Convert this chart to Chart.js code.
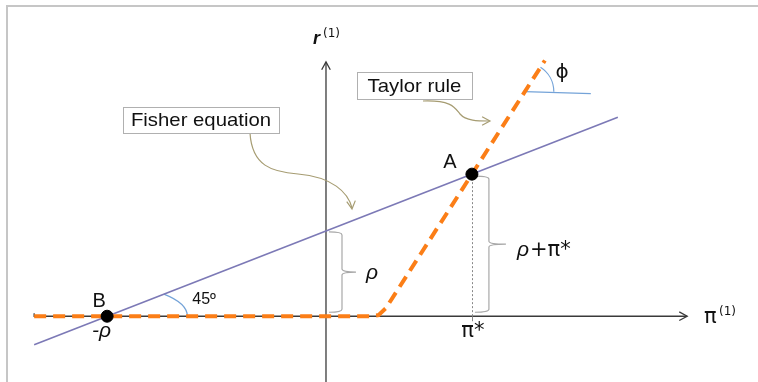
<!DOCTYPE html>
<html lang="en">
<head>
<meta charset="UTF-8">
<title>Fisher equation and Taylor rule</title>
<script src="https://cdn.jsdelivr.net/npm/chart.js"></script>
<style>
    body, html { margin: 0; padding: 0; background: #fff; }
    #wrap { width: 758px; height: 382px; position: relative; }
</style>
</head>
<body>
<div id="wrap"><canvas id="chart"></canvas></div>
<script>
    // model values (rho = 3, pi* = 2, Taylor slope phi = 4)
    const rho = 3;
    const piStar = 2;
    const fisherPi = [-4, 4];
    const fisherR = [-1, 7];
    const taylorPi = [-4, 0.6, 0.72, 0.82, 3];
    const taylorR = [0, 0, 0.04, 0.28, 9];
    const pointLabels = ['A', 'B'];
    const pointPi = [2, -3];
    const pointR = [5, 0];

    const toXY = (xs, ys) => xs.map((x, i) => ({ x: x, y: ys[i] }));

    // little helpers for the drawing plugin
    function chevron(ctx, x, y, ang) {
        ctx.beginPath();
        ctx.moveTo(x - 9 * Math.cos(ang - 0.5), y - 9 * Math.sin(ang - 0.5));
        ctx.lineTo(x, y);
        ctx.lineTo(x - 9 * Math.cos(ang + 0.5), y - 9 * Math.sin(ang + 0.5));
        ctx.stroke();
    }

    function brace(ctx, x, top, bottom, x0, tip) {
        const mid = (top + bottom) / 2;
        ctx.beginPath();
        ctx.moveTo(x0, top);
        ctx.quadraticCurveTo(x, top, x, top + 3);
        ctx.lineTo(x, mid - 3);
        ctx.quadraticCurveTo(x, mid, tip, mid);
        ctx.moveTo(tip, mid);
        ctx.quadraticCurveTo(x, mid, x, mid + 3);
        ctx.lineTo(x, bottom - 3);
        ctx.quadraticCurveTo(x, bottom, x0, bottom);
        ctx.stroke();
    }

    function boxLabel(ctx, text, cx, cy, w, h) {
        ctx.fillStyle = '#fff';
        ctx.fillRect(cx - w / 2, cy - h / 2, w, h);
        ctx.strokeStyle = '#b0b0b0';
        ctx.lineWidth = 1;
        ctx.strokeRect(Math.round(cx - w / 2) + 0.5, Math.round(cy - h / 2) + 0.5, w, h);
        ctx.save();
        ctx.translate(cx, cy + 1);
        ctx.scale(1.07, 1);
        ctx.fillStyle = '#111';
        ctx.font = '19px "Liberation Sans", Arial, sans-serif';
        ctx.textAlign = 'center';
        ctx.textBaseline = 'middle';
        ctx.fillText(text, 0, 0);
        ctx.restore();
    }

    const diagram = {
        id: 'diagram',
        beforeDatasetsDraw(chart) {
            const ctx = chart.ctx;
            const xs = chart.scales.x, ys = chart.scales.y;
            const P = (a, b) => [xs.getPixelForValue(a), ys.getPixelForValue(b)];
            ctx.save();

            // frame
            ctx.strokeStyle = '#c6c6c6';
            ctx.lineWidth = 2;
            ctx.beginPath();
            ctx.moveTo(7, 382);
            ctx.lineTo(7, 6);
            ctx.lineTo(758, 6);
            ctx.stroke();

            // axes
            const [ox, oy] = P(0, 0);
            ctx.strokeStyle = '#3a3a3a';
            ctx.lineWidth = 1.3;
            const [hx0] = P(-4, 0);
            const [hx1] = P(4.95, 0);
            ctx.beginPath();
            ctx.moveTo(hx0, oy - 3);
            ctx.lineTo(hx0, oy);
            ctx.lineTo(hx1, oy);
            ctx.stroke();
            chevron(ctx, hx1, oy, 0);
            const vy1 = P(0, 8.95)[1];
            ctx.beginPath();
            ctx.moveTo(ox, chart.height);
            ctx.lineTo(ox, vy1);
            ctx.stroke();
            chevron(ctx, ox, vy1, -Math.PI / 2);

            // pi* dotted guide and tick
            const [ax, ay] = P(piStar, rho + piStar);
            ctx.strokeStyle = '#888';
            ctx.lineWidth = 1;
            ctx.setLineDash([2, 2]);
            ctx.beginPath();
            ctx.moveTo(Math.round(ax) + 0.5, ay);
            ctx.lineTo(Math.round(ax) + 0.5, oy);
            ctx.stroke();
            ctx.setLineDash([]);
            ctx.beginPath();
            ctx.moveTo(Math.round(ax) + 0.5, oy);
            ctx.lineTo(Math.round(ax) + 0.5, oy + 5);
            ctx.stroke();

            // braces
            ctx.strokeStyle = '#a8a8a8';
            ctx.lineWidth = 1.2;
            const rhoY = P(0, rho)[1];
            brace(ctx, ox + 16, rhoY + 1, oy - 4, ox + 3, ox + 30);
            brace(ctx, ax + 17, ay + 2, oy - 4, ax + 3, ax + 34);

            // angle arcs
            const [bx, by] = P(pointPi[1], pointR[1]);
            const sx = xs.getPixelForValue(1) - xs.getPixelForValue(0);
            const sy = ys.getPixelForValue(0) - ys.getPixelForValue(1);
            ctx.strokeStyle = '#74a3d8';
            ctx.lineWidth = 1.2;
            ctx.beginPath();
            ctx.ellipse(bx, by, 1.1 * sx, 1.1 * sy, 0, -Math.PI / 4, 0);
            ctx.stroke();

            const [cx, cy] = P(2.725, 7.9);
            ctx.beginPath();
            ctx.moveTo(cx, cy);
            ctx.lineTo(cx + 66, cy + 2);
            ctx.stroke();
            const ang = Math.atan2(4 * sy, sx);
            ctx.beginPath();
            ctx.arc(cx, cy, 29, -ang, 0);
            ctx.stroke();

            ctx.restore();
        },
        afterDatasetsDraw(chart) {
            const ctx = chart.ctx;
            const xs = chart.scales.x, ys = chart.scales.y;
            const P = (a, b) => [xs.getPixelForValue(a), ys.getPixelForValue(b)];
            ctx.save();
            ctx.fillStyle = '#111';
            ctx.textBaseline = 'alphabetic';

            const [ox, oy] = P(0, 0);
            const [ax, ay] = P(pointPi[0], pointR[0]);
            const [bx, by] = P(pointPi[1], pointR[1]);

            // point names
            ctx.font = '20px "Liberation Sans", Arial, sans-serif';
            ctx.textAlign = 'center';
            ctx.fillText(pointLabels[0], ax - 22, ay - 6);
            ctx.fillText(pointLabels[1], bx - 8, by - 9);

            // axis titles
            ctx.textAlign = 'left';
            ctx.font = 'italic bold 18px "Liberation Sans", Arial, sans-serif';
            ctx.fillText('r', ox - 13, 44);
            ctx.font = '12px "DejaVu Sans", sans-serif';
            ctx.fillText('(1)', ox - 3, 37);
            ctx.font = '21px "DejaVu Sans", sans-serif';
            ctx.fillText('\u03c0', 704, oy + 7);
            ctx.font = '12px "DejaVu Sans", sans-serif';
            ctx.fillText('(1)', 719, oy - 1);

            // greek annotations
            ctx.font = 'italic 21px "Liberation Sans", Arial, sans-serif';
            ctx.fillText('-\u03c1', bx - 15, by + 21);
            ctx.fillText('\u03c1', ox + 40, oy - 37);
            ctx.fillText('\u03c1', ax + 45, ay + 82);
            ctx.font = '21px "DejaVu Sans", sans-serif';
            ctx.fillText('+\u03c0*', ax + 58, ay + 82);
            ctx.textAlign = 'center';
            ctx.fillText('\u03c0*', ax + 1, oy + 21);
            ctx.font = '20px "DejaVu Sans", sans-serif';
            ctx.fillText('\u03d5', 562, 78);
            ctx.font = '16px "Liberation Sans", Arial, sans-serif';
            ctx.fillText('45\u00ba', bx + 97, by - 12);

            // callout curves
            ctx.strokeStyle = '#a69c72';
            ctx.lineWidth = 1.2;
            ctx.beginPath();
            ctx.moveTo(250, 133);
            ctx.bezierCurveTo(252, 166, 272, 172, 298, 174);
            ctx.bezierCurveTo(332, 177, 348, 192, 352, 208);
            ctx.stroke();
            chevron(ctx, 352, 209, 1.45);
            ctx.beginPath();
            ctx.moveTo(423, 101);
            ctx.bezierCurveTo(452, 100, 455, 108, 460, 114);
            ctx.bezierCurveTo(466, 121, 478, 121, 489, 121);
            ctx.stroke();
            chevron(ctx, 490, 121, 0);

            // callout boxes
            boxLabel(ctx, 'Fisher equation', 201, 120, 156, 26);
            boxLabel(ctx, 'Taylor rule', 414.5, 85.5, 115, 27);

            ctx.restore();
        }
    };

    new Chart(document.getElementById('chart'), {
        type: 'line',
        data: {
            datasets: [{
                label: 'Fisher equation',
                data: toXY(fisherPi, fisherR),
                borderColor: '#7c79b6',
                borderWidth: 1.6,
                pointRadius: 0,
                order: 3
            }, {
                label: 'Taylor rule',
                data: toXY(taylorPi, taylorR),
                borderColor: '#fb7e17',
                borderWidth: 4,
                borderDash: [12, 7],
                pointRadius: 0,
                order: 2
            }, {
                type: 'scatter',
                label: 'Equilibria',
                data: toXY(pointPi, pointR),
                backgroundColor: '#000',
                borderColor: '#000',
                pointRadius: 6,
                order: 1
            }]
        },
        options: {
            responsive: true,
            maintainAspectRatio: false,
            animation: false,
            layout: { padding: 0 },
            plugins: { legend: { display: false }, tooltip: { enabled: false } },
            scales: {
                x: { type: 'linear', min: -4.372, max: 5.825, display: false },
                y: { type: 'linear', min: -2.068, max: 10.881, display: false }
            }
        },
        plugins: [diagram]
    });
</script>
</body>
</html>
